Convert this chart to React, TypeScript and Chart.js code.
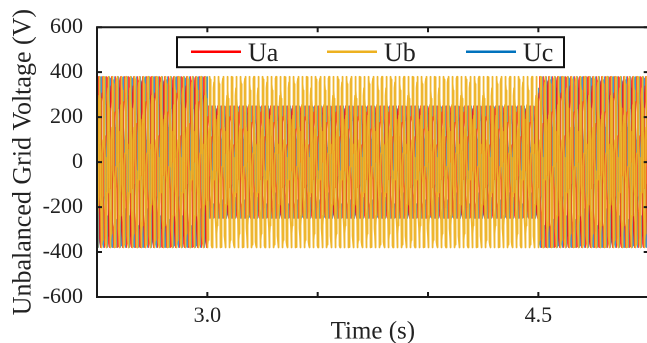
import React, { useEffect, useRef } from "react";
import { Chart, registerables } from "chart.js";

Chart.register(...registerables);

// ---- data ----
const segmentStart = [2.5, 3.0, 4.5];
const segmentEnd = [3.0, 4.5, 5.0];
const ampUa = [380, 250, 380];
const ampUb = [380, 380, 380];
const ampUc = [380, 250, 380];
const phaseDeg = [0, -120, 120];
const gridFreqHz = 50;
const samplesPerCycle = 40;
const seriesNames = ["Ua", "Ub", "Uc"];
const seriesColors = ["#FF0000", "#EDB120", "#0072BD"];
const yTicks = [-600, -400, -200, 0, 200, 400, 600];
const xTicks = [2.5, 3.0, 3.5, 4.0, 4.5, 5.0];
const xTickLabels = ["", "3.0", "", "", "4.5", ""];

const FONT = "'Times New Roman', 'Liberation Serif', serif";

function buildWave(amps: number[], phase: number) {
  const pts: { x: number; y: number }[] = [];
  const dt = 1 / (gridFreqHz * samplesPerCycle);
  const t0 = segmentStart[0];
  const t1 = segmentEnd[segmentEnd.length - 1];
  const n = Math.round((t1 - t0) / dt);
  for (let i = 0; i <= n; i++) {
    const t = t0 + i * dt;
    let seg = segmentStart.findIndex((s, k) => t >= s - 1e-9 && t < segmentEnd[k] - 1e-9);
    if (seg < 0) seg = amps.length - 1;
    pts.push({ x: t, y: amps[seg] * Math.sin(2 * Math.PI * gridFreqHz * t + (phase * Math.PI) / 180) });
  }
  return pts;
}

const framePlugin = {
  id: "frame",
  afterDraw(chart: any) {
    const { ctx, chartArea, scales } = chart;
    const { left, right, top, bottom } = chartArea;
    ctx.save();
    ctx.strokeStyle = "#1a1a1a";
    ctx.lineWidth = 2;
    ctx.beginPath();
    ctx.rect(left, top, right - left, bottom - top);
    ctx.stroke();
    const tl = 5;
    ctx.beginPath();
    xTicks.forEach((v) => {
      const x = scales.x.getPixelForValue(v);
      ctx.moveTo(x, bottom);
      ctx.lineTo(x, bottom - tl);
      ctx.moveTo(x, top);
      ctx.lineTo(x, top + tl);
    });
    yTicks.forEach((v) => {
      const y = scales.y.getPixelForValue(v);
      ctx.moveTo(left, y);
      ctx.lineTo(left + tl, y);
      ctx.moveTo(right, y);
      ctx.lineTo(right - tl, y);
    });
    ctx.stroke();

    // legend box inside the axes
    const bx = left + 80;
    const by = top + 10;
    const bw = 387;
    const bh = 30;
    ctx.fillStyle = "#ffffff";
    ctx.fillRect(bx, by, bw, bh);
    ctx.lineWidth = 2;
    ctx.strokeStyle = "#111";
    ctx.strokeRect(bx, by, bw, bh);
    const lineStarts = [14, 150, 289];
    ctx.font = `26px ${FONT}`;
    ctx.textBaseline = "alphabetic";
    ctx.textAlign = "left";
    seriesNames.forEach((name, i) => {
      const lx = bx + lineStarts[i];
      const ly = by + 14.5;
      ctx.strokeStyle = seriesColors[i];
      ctx.lineWidth = 2.5;
      ctx.beginPath();
      ctx.moveTo(lx, ly);
      ctx.lineTo(lx + 50, ly);
      ctx.stroke();
      ctx.fillStyle = "#222";
      ctx.fillText(name, lx + 57, by + 24);
    });
    ctx.restore();
  },
};

const drawOrder = [2, 1, 3];
const lineWidths = [1, 1.8, 1];
const lineAlpha = ["cc", "ee", "bb"];

export default function App() {
  const ref = useRef<HTMLCanvasElement | null>(null);
  useEffect(() => {
    const canvas = ref.current!;
    const datasets = seriesNames.map((name, i) => {
      const amps = i === 0 ? ampUa : i === 1 ? ampUb : ampUc;
      return {
        label: name,
        data: buildWave(amps, phaseDeg[i]),
        borderColor: seriesColors[i] + lineAlpha[i],
        backgroundColor: seriesColors[i],
        borderWidth: lineWidths[i],
        borderJoinStyle: "round" as const,
        pointRadius: 0,
        tension: 0,
        order: drawOrder[i],
      };
    });
    const chart = new Chart(canvas, {
      type: "line",
      data: { datasets },
      options: {
        animation: false,
        responsive: false,
        devicePixelRatio: 2,
        parsing: false as any,
        normalized: true,
        layout: { padding: { left: 0, right: 11.3, top: 20, bottom: 0 } },
        plugins: { legend: { display: false }, tooltip: { enabled: false } },
        scales: {
          x: {
            type: "linear",
            min: 2.5,
            max: 5.0,
            grid: { display: false, drawTicks: false },
            border: { display: false },
            afterFit: (s: any) => {
              s.height = 46;
            },
            ticks: {
              stepSize: 0.5,
              autoSkip: false,
              maxRotation: 0,
              padding: 6,
              color: "#222",
              font: { family: FONT, size: 22 },
              callback: (v: any) => {
                const i = xTicks.findIndex((t) => Math.abs(t - Number(v)) < 1e-6);
                return i >= 0 ? xTickLabels[i] : "";
              },
            },
            title: {
              display: true,
              text: "Time (s)",
              color: "#222",
              font: { family: FONT, size: 25, lineHeight: 0.9 },
              padding: { top: 0, bottom: 0 },
            },
          },
          y: {
            min: -600,
            max: 600,
            grid: { display: false, drawTicks: false },
            border: { display: false },
            afterFit: (s: any) => {
              s.width = 97;
            },
            ticks: {
              stepSize: 200,
              padding: 14,
              color: "#222",
              font: { family: FONT, size: 22 },
            },
            title: {
              display: true,
              text: "Unbalanced Grid Voltage (V)",
              color: "#222",
              font: { family: FONT, size: 26 },
              padding: { top: 8, bottom: 0 },
            },
          },
        },
      },
      plugins: [framePlugin],
    });
    return () => chart.destroy();
  }, []);
  return (
    <div style={{ position: "absolute", left: 0, top: 0, width: 647, height: 343, overflow: "hidden", background: "#fff" }}>
      <canvas ref={ref} style={{ display: "block", width: 660, height: 343 }} />
    </div>
  );
}
